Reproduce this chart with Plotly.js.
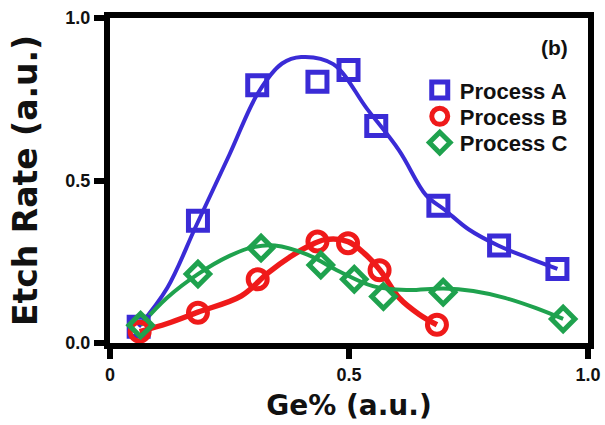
<!DOCTYPE html>
<html>
<head>
<meta charset="utf-8">
<script src="https://cdn.plot.ly/plotly-3.0.1.min.js"></script>
<style>html,body{margin:0;padding:0;background:#fff;}#chart{width:605px;height:425px;}</style>
</head>
<body>
<div id="chart"></div>
<script>
// Measured points
var seriesNames = ['Process A', 'Process B', 'Process C'];
var xA = [0.060, 0.184, 0.308, 0.434, 0.499, 0.557, 0.687, 0.814, 0.936];
var yA = [0.050, 0.376, 0.793, 0.804, 0.840, 0.668, 0.422, 0.300, 0.228];
var xB = [0.062, 0.184, 0.309, 0.434, 0.498, 0.564, 0.684];
var yB = [0.035, 0.093, 0.196, 0.312, 0.307, 0.224, 0.056];
var xC = [0.064, 0.184, 0.316, 0.441, 0.511, 0.572, 0.697, 0.948];
var yC = [0.055, 0.212, 0.292, 0.240, 0.196, 0.143, 0.156, 0.074];
// Fitted curves
var fitAx = [0.060, 0.120, 0.180, 0.250, 0.310, 0.360, 0.400, 0.467, 0.537, 0.605, 0.661, 0.700, 0.750, 0.812, 0.875, 0.936];
var fitAy = [0.050, 0.170, 0.360, 0.580, 0.770, 0.860, 0.880, 0.858, 0.722, 0.592, 0.455, 0.410, 0.350, 0.300, 0.262, 0.228];
var fitBx = [0.062, 0.120, 0.184, 0.275, 0.330, 0.378, 0.413, 0.450, 0.498, 0.535, 0.565, 0.605, 0.647, 0.684];
var fitBy = [0.035, 0.060, 0.095, 0.145, 0.215, 0.266, 0.296, 0.318, 0.312, 0.272, 0.224, 0.139, 0.088, 0.056];
var fitCx = [0.064, 0.120, 0.184, 0.250, 0.300, 0.345, 0.413, 0.480, 0.550, 0.620, 0.698, 0.760, 0.826, 0.890, 0.948];
var fitCy = [0.055, 0.140, 0.212, 0.268, 0.295, 0.300, 0.272, 0.220, 0.175, 0.163, 0.168, 0.160, 0.139, 0.108, 0.074];
var xTickVals = [0, 0.5, 1.0];
var xTickText = ['0', '0.5', '1.0'];
var yTickVals = [0, 0.5, 1.0];
var yTickText = ['0.0', '0.5', '1.0'];

var BLUE = '#3a2bd6', RED = '#ef1a1a', GREEN = '#1fa24e';
var FONT = 'Liberation Sans, Arial, Helvetica, sans-serif';
var TFONT = 'DejaVu Sans, Verdana, sans-serif';

function curve(x, y, c, w) {
  return {x: x, y: y, type: 'scatter', mode: 'lines', showlegend: false, hoverinfo: 'skip',
          line: {color: c, width: w, shape: 'spline', smoothing: 1}};
}
function pts(x, y, name, c, sym, size, lg) {
  return {x: x, y: y, name: name, legend: lg, type: 'scatter', mode: 'markers', cliponaxis: false,
          marker: {symbol: sym, color: c, size: size, line: {color: c, width: 5}}};
}

var data = [
  curve(fitAx, fitAy, BLUE, 4),
  curve(fitBx, fitBy, RED, 5.5),
  curve(fitCx, fitCy, GREEN, 4),
  pts(xA, yA, seriesNames[0], BLUE, 'square-open', 19, 'legend'),
  pts(xB, yB, seriesNames[1], RED, 'circle-open', 19, 'legend2'),
  pts(xC, yC, seriesNames[2], GREEN, 'diamond-open', 18, 'legend3')
];

var axisCommon = {
  showline: true, mirror: true, linecolor: '#000', linewidth: 6,
  ticks: 'outside', ticklen: 10, tickwidth: 6, tickcolor: '#000',
  showgrid: false, zeroline: false,
  tickfont: {family: FONT, size: 18, color: '#111', weight: 'bold'}
};

function leg(yc) {
  return {x: 0.648, y: yc, xanchor: 'left', yanchor: 'middle', bgcolor: 'rgba(0,0,0,0)',
          font: {family: FONT, size: 22, color: '#111', weight: 'bold'}, itemsizing: 'trace'};
}

var layout = {
  width: 605, height: 425,
  margin: {l: 110, r: 17, t: 18, b: 82},
  paper_bgcolor: '#fff', plot_bgcolor: '#fff',
  showlegend: true,
  legend: leg(0.778),
  legend2: leg(0.697),
  legend3: leg(0.616),
  xaxis: Object.assign({}, axisCommon, {
    range: [0, 1], tickvals: xTickVals, ticktext: xTickText,
    title: {text: 'Ge% (a.u.)', font: {family: TFONT, size: 28, color: '#111', weight: 'bold'}, standoff: 14}
  }),
  yaxis: Object.assign({}, axisCommon, {
    range: [0, 1], tickvals: yTickVals, ticktext: yTickText,
    title: {text: 'Etch Rate (a.u.)', font: {family: TFONT, size: 33, color: '#111', weight: 'bold'}, standoff: 20}
  }),
  annotations: [{
    xref: 'paper', yref: 'paper', x: 0.962, y: 0.91, xanchor: 'right', yanchor: 'middle',
    text: '(b)', showarrow: false, font: {family: FONT, size: 21, color: '#111', weight: 'bold'}
  }]
};

Plotly.newPlot('chart', data, layout, {displayModeBar: false, staticPlot: true});
</script>
</body>
</html>
